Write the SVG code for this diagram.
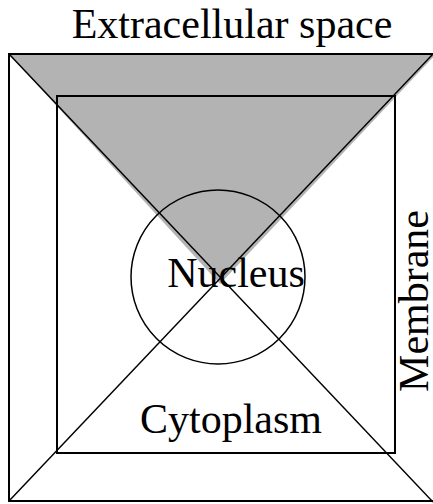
<svg xmlns="http://www.w3.org/2000/svg" width="433" height="504" viewBox="0 0 433 504">
<style>
.ln{fill:none;stroke:#000;stroke-width:2}
.thin{fill:none;stroke:#000;stroke-width:1.5}
.lbl{font-family:"Liberation Serif","Times New Roman",serif;font-size:42px;fill:#000}
</style>
<rect width="433" height="504" fill="#fff"/>
<g id="extracellular">
<polygon points="9,54 436,54 220,284" fill="#b3b3b3"/>
<text class="lbl" x="232" y="38" text-anchor="middle">Extracellular space</text>
</g>
<g id="membrane">
<rect class="ln" x="9" y="54" width="430" height="447"/>
<text class="lbl" transform="translate(428,301) rotate(-90)" text-anchor="middle">Membrane</text>
</g>
<g id="cytoplasm">
<rect class="ln" x="57" y="96" width="338" height="357"/>
<text class="lbl" x="231" y="433" text-anchor="middle">Cytoplasm</text>
</g>
<g id="connectors">
<line class="thin" x1="9" y1="54" x2="433" y2="502"/>
<line class="thin" x1="9" y1="501" x2="433" y2="54"/>
</g>
<g id="nucleus">
<circle class="thin" cx="218" cy="277" r="87"/>
<text class="lbl" x="236" y="287" text-anchor="middle">Nucleus</text>
</g>
</svg>
